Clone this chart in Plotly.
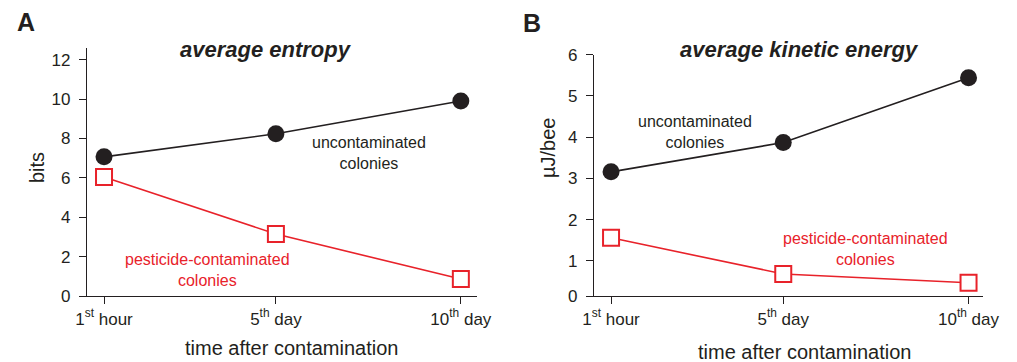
import plotly.graph_objects as go

# ---- data ----
time_labels = ["1<sup>st</sup> hour", "5<sup>th</sup> day", "10<sup>th</sup> day"]
time_pos = [0, 1, 2.076]

entropy_uncontaminated = [7.07, 8.24, 9.91]
entropy_contaminated = [6.05, 3.15, 0.86]

kinetic_uncontaminated = [3.16, 3.87, 5.44]
kinetic_contaminated = [1.56, 0.685, 0.47]

entropy_ticks = [0, 2, 4, 6, 8, 10, 12]
kinetic_ticks = [0.15, 1, 2, 3, 4, 5, 6]
kinetic_ticktext = ["0", "1", "2", "3", "4", "5", "6"]

BLACK = "#231f20"
RED = "#e8222a"
FONT = "Liberation Sans, Arial, sans-serif"

fig = go.Figure()


def add_series(xa, ya, unc, con):
    fig.add_trace(go.Scatter(
        x=time_pos, y=unc, xaxis=xa, yaxis=ya, mode="lines+markers",
        line=dict(color=BLACK, width=1.6),
        marker=dict(symbol="circle", size=17, color=BLACK),
        showlegend=False, cliponaxis=False, hoverinfo="skip"))
    fig.add_trace(go.Scatter(
        x=time_pos, y=con, xaxis=xa, yaxis=ya, mode="lines+markers",
        line=dict(color=RED, width=1.6),
        marker=dict(symbol="square", size=16, color="white",
                    line=dict(color=RED, width=2)),
        showlegend=False, cliponaxis=False, hoverinfo="skip"))


add_series("x", "y", entropy_uncontaminated, entropy_contaminated)
add_series("x2", "y2", kinetic_uncontaminated, kinetic_contaminated)

axis_common = dict(
    showline=True, linecolor=BLACK, linewidth=1.3, showgrid=False,
    zeroline=False, ticks="outside", tickcolor=BLACK, tickwidth=1,
    ticklen=7, tickfont=dict(family=FONT, size=17, color=BLACK),
    automargin=False,
)
yaxis_extra = dict(ticklabelstandoff=5)

W, H = 1017, 362


def px_x(p):
    return p / W


def px_y(p):
    return 1 - p / H


fig.update_layout(
    width=W, height=H,
    template="none",
    margin=dict(l=0, r=0, t=0, b=0),
    paper_bgcolor="white", plot_bgcolor="white",
    xaxis=dict(domain=[px_x(87), px_x(477)], range=[-0.099, 2.17],
               tickvals=time_pos, ticktext=time_labels, anchor="y",
               **axis_common),
    yaxis=dict(domain=[px_y(296), px_y(48)], range=[0, 12.6],
               tickvals=entropy_ticks, anchor="x", **axis_common,
               **yaxis_extra),
    xaxis2=dict(domain=[px_x(594), px_x(983)], range=[-0.099, 2.16],
                tickvals=time_pos, ticktext=time_labels, anchor="y2",
                **axis_common),
    yaxis2=dict(domain=[px_y(296), px_y(54.7)], range=[0.15, 6],
                tickvals=kinetic_ticks, ticktext=kinetic_ticktext,
                anchor="x2", **axis_common, **yaxis_extra),
)


def ann(x, y, text, size=16, color=BLACK, xref="paper", yref="paper",
        angle=0, bold=False, italic=False):
    if bold:
        text = "<b>" + text + "</b>"
    if italic:
        text = "<i>" + text + "</i>"
    if xref == "paper":
        x = px_x(x)
    if yref == "paper":
        y = px_y(y)
    fig.add_annotation(x=x, y=y, xref=xref, yref=yref, text=text,
                       showarrow=False, textangle=angle,
                       font=dict(family=FONT, size=size, color=color),
                       xanchor="center", yanchor="middle")


# panel letters
ann(26, 22, "A", size=25, bold=True)
ann(532, 23, "B", size=25, bold=True)

# titles
ann(266, 49, "average entropy", size=22, bold=True, italic=True)
ann(799, 49, "average kinetic energy", size=22, bold=True, italic=True)

# axis titles
ann(291, 348, "time after contamination", size=20)
ann(804, 352, "time after contamination", size=20)
ann(37, 168, "bits", size=20, angle=-90)
ann(548, 148, "µJ/bee", size=20, angle=-90)

# series labels
ann(1.54, 7.27, "uncontaminated<br>colonies", size=16, xref="x", yref="y")
ann(0.6, 1.32, "pesticide-contaminated<br>colonies", size=16, color=RED,
    xref="x", yref="y")
ann(0.49, 4.13, "uncontaminated<br>colonies", size=16, xref="x2", yref="y2")
ann(1.477, 1.29, "pesticide-contaminated<br>colonies", size=16, color=RED,
    xref="x2", yref="y2")

fig.write_html(
    "out.html",
    config={"displayModeBar": False},
    post_script="document.body.style.margin='0px';"
                "document.body.style.overflow='hidden';",
)
